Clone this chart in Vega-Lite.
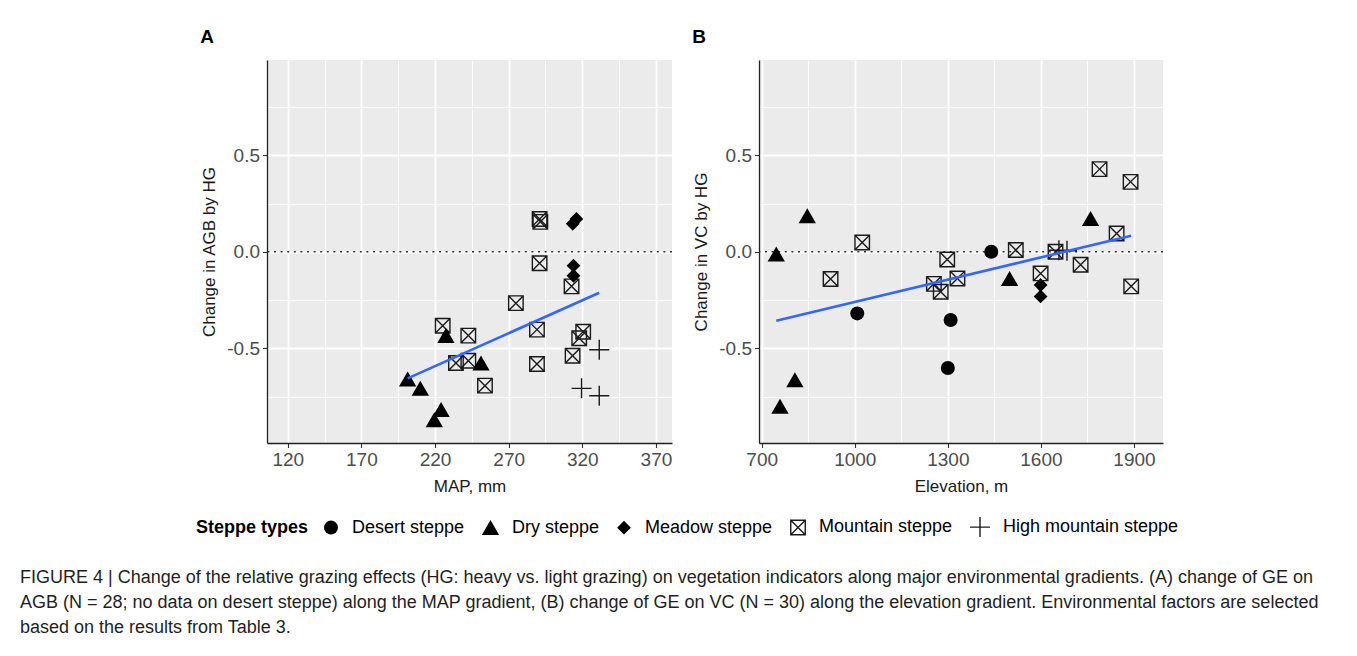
{
  "$schema": "https://vega.github.io/schema/vega-lite/v6.json",
  "padding": {"left": 20, "top": 27, "right": 5, "bottom": 5},
  "datasets": {
    "a": [
      {"map": 291, "change": 0.17, "type": "Mountain steppe"},
      {"map": 291.5, "change": 0.155, "type": "Mountain steppe"},
      {"map": 291, "change": -0.059, "type": "Mountain steppe"},
      {"map": 312.7, "change": -0.179, "type": "Mountain steppe"},
      {"map": 274.9, "change": -0.266, "type": "Mountain steppe"},
      {"map": 225.2, "change": -0.383, "type": "Mountain steppe"},
      {"map": 242.6, "change": -0.434, "type": "Mountain steppe"},
      {"map": 289.2, "change": -0.403, "type": "Mountain steppe"},
      {"map": 320.6, "change": -0.414, "type": "Mountain steppe"},
      {"map": 317.9, "change": -0.448, "type": "Mountain steppe"},
      {"map": 234.2, "change": -0.576, "type": "Mountain steppe"},
      {"map": 242.6, "change": -0.564, "type": "Mountain steppe"},
      {"map": 253.9, "change": -0.693, "type": "Mountain steppe"},
      {"map": 289.2, "change": -0.581, "type": "Mountain steppe"},
      {"map": 313.4, "change": -0.538, "type": "Mountain steppe"},
      {"map": 201.4, "change": -0.659, "type": "Dry steppe"},
      {"map": 210.0, "change": -0.707, "type": "Dry steppe"},
      {"map": 227.4, "change": -0.434, "type": "Dry steppe"},
      {"map": 251.2, "change": -0.576, "type": "Dry steppe"},
      {"map": 224.1, "change": -0.817, "type": "Dry steppe"},
      {"map": 219.5, "change": -0.869, "type": "Dry steppe"},
      {"map": 316.0, "change": 0.17, "type": "Meadow steppe"},
      {"map": 313.5, "change": 0.145, "type": "Meadow steppe"},
      {"map": 314.0, "change": -0.072, "type": "Meadow steppe"},
      {"map": 314.0, "change": -0.124, "type": "Meadow steppe"},
      {"map": 331.5, "change": -0.507, "type": "High mountain steppe"},
      {"map": 319.5, "change": -0.707, "type": "High mountain steppe"},
      {"map": 331.5, "change": -0.745, "type": "High mountain steppe"}
    ],
    "b": [
      {"elev": 747, "change": -0.012, "type": "Dry steppe"},
      {"elev": 847, "change": 0.186, "type": "Dry steppe"},
      {"elev": 807, "change": -0.662, "type": "Dry steppe"},
      {"elev": 759, "change": -0.8, "type": "Dry steppe"},
      {"elev": 1499, "change": -0.138, "type": "Dry steppe"},
      {"elev": 1760, "change": 0.172, "type": "Dry steppe"},
      {"elev": 1008, "change": -0.319, "type": "Desert steppe"},
      {"elev": 1309, "change": -0.353, "type": "Desert steppe"},
      {"elev": 1300, "change": -0.602, "type": "Desert steppe"},
      {"elev": 1440, "change": 0.0, "type": "Desert steppe"},
      {"elev": 1599, "change": -0.172, "type": "Meadow steppe"},
      {"elev": 1599, "change": -0.231, "type": "Meadow steppe"},
      {"elev": 1024, "change": 0.048, "type": "Mountain steppe"},
      {"elev": 922, "change": -0.141, "type": "Mountain steppe"},
      {"elev": 1298, "change": -0.04, "type": "Mountain steppe"},
      {"elev": 1255, "change": -0.166, "type": "Mountain steppe"},
      {"elev": 1277, "change": -0.207, "type": "Mountain steppe"},
      {"elev": 1331, "change": -0.138, "type": "Mountain steppe"},
      {"elev": 1519, "change": 0.009, "type": "Mountain steppe"},
      {"elev": 1599, "change": -0.112, "type": "Mountain steppe"},
      {"elev": 1647, "change": 0.0, "type": "Mountain steppe"},
      {"elev": 1728, "change": -0.067, "type": "Mountain steppe"},
      {"elev": 1789, "change": 0.428, "type": "Mountain steppe"},
      {"elev": 1889, "change": 0.362, "type": "Mountain steppe"},
      {"elev": 1844, "change": 0.095, "type": "Mountain steppe"},
      {"elev": 1891, "change": -0.179, "type": "Mountain steppe"},
      {"elev": 1658, "change": 0.008, "type": "High mountain steppe"},
      {"elev": 1684, "change": 0.005, "type": "High mountain steppe"}
    ],
    "zero": [{"ref": 0}]
  },
  "title": {
    "text": [
      "FIGURE 4 | Change of the relative grazing effects (HG: heavy vs. light grazing) on vegetation indicators along major environmental gradients. (A) change of GE on",
      "AGB (N = 28; no data on desert steppe) along the MAP gradient, (B) change of GE on VC (N = 30) along the elevation gradient. Environmental factors are selected",
      "based on the results from Table 3."
    ],
    "orient": "bottom",
    "anchor": "start",
    "frame": "bounds",
    "dx": -176,
    "offset": 29,
    "font": "Liberation Sans",
    "fontSize": 18,
    "fontWeight": "normal",
    "color": "#231F20",
    "lineHeight": 25
  },
  "spacing": 19,
  "resolve": {
    "scale": {"x": "independent", "y": "independent", "shape": "shared", "fill": "shared", "stroke": "shared", "size": "shared"}
  },
  "hconcat": [
    {
      "title": {"text": "A"},
      "width": 405,
      "height": 383,
      "layer": [
        {
          "data": {"name": "zero"},
          "mark": {"type": "rule", "color": "#333333", "strokeWidth": 1.4, "strokeDash": [2, 4.6]},
          "encoding": {"y": {"field": "ref", "type": "quantitative"}}
        },
        {
          "data": {"name": "a"},
          "mark": {"type": "point", "opacity": 1, "strokeWidth": 1.4},
          "encoding": {
            "x": {
              "field": "map", "type": "quantitative",
              "scale": {"domain": [105.9, 380.9], "nice": false, "zero": false},
              "axis": {
                "title": "MAP, mm",
                "values": [120, 145, 170, 195, 220, 245, 270, 295, 320, 345, 370],
                "labelExpr": "(datum.value - 120) % 50 === 0 ? datum.label : ''",
                "tickOpacity": {"condition": {"test": "(datum.value - 120) % 50 === 0", "value": 1}, "value": 0},
                "gridWidth": {"condition": {"test": "(datum.value - 120) % 50 === 0", "value": 1.8}, "value": 0.9}
              }
            },
            "y": {
              "field": "change", "type": "quantitative",
              "scale": {"domain": [-0.99, 0.993], "nice": false, "zero": false},
              "axis": {
                "title": "Change in AGB by HG",
                "values": [-0.75, -0.5, -0.25, 0, 0.25, 0.5, 0.75],
                "labelExpr": "abs(datum.value*2 - round(datum.value*2)) < 0.000001 ? (datum.value < 0 ? '-' : '') + format(abs(datum.value), '.1f') : ''",
                "tickOpacity": {"condition": {"test": "abs(datum.value*2 - round(datum.value*2)) < 0.000001", "value": 1}, "value": 0},
                "gridWidth": {"condition": {"test": "abs(datum.value*2 - round(datum.value*2)) < 0.000001", "value": 1.8}, "value": 0.9}
              }
            },
            "shape": {
              "field": "type", "type": "nominal", "title": "Steppe types",
              "scale": {
                "domain": ["Desert steppe", "Dry steppe", "Meadow steppe", "Mountain steppe", "High mountain steppe"],
                "range": ["circle", "triangle-up", "diamond", "M-1,-1H1V1H-1ZM-1,-1L1,1M1,-1L-1,1", "M-1,0H1M0,-1V1"]
              }
            },
            "fill": {
              "field": "type", "type": "nominal", "title": "Steppe types",
              "scale": {
                "domain": ["Desert steppe", "Dry steppe", "Meadow steppe", "Mountain steppe", "High mountain steppe"],
                "range": ["#000000", "#000000", "#000000", "transparent", "transparent"]
              }
            },
            "stroke": {
              "field": "type", "type": "nominal", "title": "Steppe types",
              "scale": {
                "domain": ["Desert steppe", "Dry steppe", "Meadow steppe", "Mountain steppe", "High mountain steppe"],
                "range": ["transparent", "transparent", "transparent", "#1A1A1A", "#1A1A1A"]
              }
            },
            "size": {
              "field": "type", "type": "nominal", "title": "Steppe types",
              "scale": {
                "type": "ordinal",
                "domain": ["Desert steppe", "Dry steppe", "Meadow steppe", "Mountain steppe", "High mountain steppe"],
                "range": [196, 300, 190, 210, 400]
              }
            }
          }
        },
        {
          "data": {"name": "a"},
          "transform": [{"regression": "change", "on": "map"}],
          "mark": {"type": "line", "color": "#3366FF", "strokeWidth": 2.6},
          "encoding": {
            "x": {"field": "map", "type": "quantitative"},
            "y": {"field": "change", "type": "quantitative"}
          }
        }
      ]
    },
    {
      "title": {"text": "B"},
      "width": 404,
      "height": 383,
      "layer": [
        {
          "data": {"name": "zero"},
          "mark": {"type": "rule", "color": "#333333", "strokeWidth": 1.4, "strokeDash": [2, 4.6]},
          "encoding": {"y": {"field": "ref", "type": "quantitative"}}
        },
        {
          "data": {"name": "b"},
          "mark": {"type": "point", "opacity": 1, "strokeWidth": 1.4},
          "encoding": {
            "x": {
              "field": "elev", "type": "quantitative",
              "scale": {"domain": [691.3, 1993.5], "nice": false, "zero": false},
              "axis": {
                "title": "Elevation, m",
                "format": "d",
                "values": [700, 850, 1000, 1150, 1300, 1450, 1600, 1750, 1900],
                "labelExpr": "(datum.value - 700) % 300 === 0 ? datum.label : ''",
                "tickOpacity": {"condition": {"test": "(datum.value - 700) % 300 === 0", "value": 1}, "value": 0},
                "gridWidth": {"condition": {"test": "(datum.value - 700) % 300 === 0", "value": 1.8}, "value": 0.9}
              }
            },
            "y": {
              "field": "change", "type": "quantitative",
              "scale": {"domain": [-0.99, 0.993], "nice": false, "zero": false},
              "axis": {
                "title": "Change in VC by HG",
                "values": [-0.75, -0.5, -0.25, 0, 0.25, 0.5, 0.75],
                "labelExpr": "abs(datum.value*2 - round(datum.value*2)) < 0.000001 ? (datum.value < 0 ? '-' : '') + format(abs(datum.value), '.1f') : ''",
                "tickOpacity": {"condition": {"test": "abs(datum.value*2 - round(datum.value*2)) < 0.000001", "value": 1}, "value": 0},
                "gridWidth": {"condition": {"test": "abs(datum.value*2 - round(datum.value*2)) < 0.000001", "value": 1.8}, "value": 0.9}
              }
            },
            "shape": {
              "field": "type", "type": "nominal", "title": "Steppe types",
              "scale": {
                "domain": ["Desert steppe", "Dry steppe", "Meadow steppe", "Mountain steppe", "High mountain steppe"],
                "range": ["circle", "triangle-up", "diamond", "M-1,-1H1V1H-1ZM-1,-1L1,1M1,-1L-1,1", "M-1,0H1M0,-1V1"]
              }
            },
            "fill": {
              "field": "type", "type": "nominal", "title": "Steppe types",
              "scale": {
                "domain": ["Desert steppe", "Dry steppe", "Meadow steppe", "Mountain steppe", "High mountain steppe"],
                "range": ["#000000", "#000000", "#000000", "transparent", "transparent"]
              }
            },
            "stroke": {
              "field": "type", "type": "nominal", "title": "Steppe types",
              "scale": {
                "domain": ["Desert steppe", "Dry steppe", "Meadow steppe", "Mountain steppe", "High mountain steppe"],
                "range": ["transparent", "transparent", "transparent", "#1A1A1A", "#1A1A1A"]
              }
            },
            "size": {
              "field": "type", "type": "nominal", "title": "Steppe types",
              "scale": {
                "type": "ordinal",
                "domain": ["Desert steppe", "Dry steppe", "Meadow steppe", "Mountain steppe", "High mountain steppe"],
                "range": [196, 300, 190, 210, 400]
              }
            }
          }
        },
        {
          "data": {"name": "b"},
          "transform": [{"regression": "change", "on": "elev"}],
          "mark": {"type": "line", "color": "#3366FF", "strokeWidth": 2.6},
          "encoding": {
            "x": {"field": "elev", "type": "quantitative"},
            "y": {"field": "change", "type": "quantitative"}
          }
        }
      ]
    }
  ],
  "config": {
    "font": "Liberation Sans",
    "view": {"fill": "#EBEBEB", "stroke": null},
    "axis": {
      "domainColor": "#222222",
      "domainWidth": 1.3,
      "tickColor": "#333333",
      "tickWidth": 1.1,
      "tickSize": 4.5,
      "labelFont": "Liberation Sans",
      "labelFontSize": 19,
      "labelColor": "#4D4D4D",
      "labelPadding": 3,
      "labelOverlap": false,
      "labelFlush": false,
      "titleFont": "Liberation Sans",
      "titleFontSize": 17,
      "titleFontWeight": "normal",
      "titleColor": "#1A1A1A",
      "titlePadding": 8.5,
      "gridColor": "#FFFFFF",
      "gridOpacity": 1
    },
    "legend": {
      "orient": "none",
      "legendX": -71,
      "legendY": 456,
      "direction": "horizontal",
      "titleOrient": "left",
      "titleFont": "Liberation Sans",
      "titleFontSize": 18,
      "titleFontWeight": "bold",
      "titleColor": "#000000",
      "labelFont": "Liberation Sans",
      "labelFontSize": 18,
      "labelColor": "#000000",
      "labelLimit": 400,
      "labelOffset": 12,
      "columnPadding": 14,
      "titlePadding": 13,
      "symbolStrokeWidth": 1.4
    },
    "title": {
      "anchor": "start",
      "frame": "bounds",
      "font": "Liberation Sans",
      "fontSize": 19,
      "fontWeight": "bold",
      "color": "#000000",
      "offset": 13.5
    }
  }
}
